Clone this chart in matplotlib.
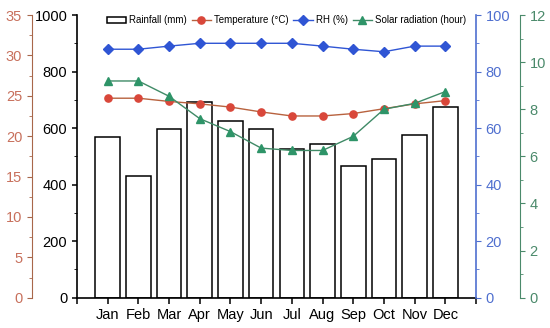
import numpy as np
import matplotlib
matplotlib.use('Agg')
import matplotlib.pyplot as plt
from matplotlib.ticker import MultipleLocator

months = ['Jan', 'Feb', 'Mar', 'Apr', 'May', 'Jun', 'Jul', 'Aug', 'Sep', 'Oct', 'Nov', 'Dec']
rainfall = [570, 431, 598, 694, 626, 598, 527, 542, 466, 492, 577, 674]
temperature = [24.7, 24.7, 24.3, 24.0, 23.6, 23.0, 22.5, 22.5, 22.8, 23.4, 24.0, 24.4]
rh = [87.9, 87.9, 89.0, 90.0, 90.0, 90.0, 90.0, 89.0, 87.9, 87.0, 89.0, 89.0]
solar = [9.2, 9.2, 8.55, 7.6, 7.05, 6.35, 6.25, 6.25, 6.85, 8.0, 8.25, 8.75]

plt.rcParams['font.family'] = ['Liberation Sans', 'DejaVu Sans']

c_temp = '#d9473a'
c_temp_line = '#b8623e'
c_temp_ax = '#a8674a'
c_rh = '#2f55d4'
c_rh_ax = '#4f6fcf'
c_sol = '#2e9468'
c_sol_ax = '#4b8a6b'

fig = plt.figure(figsize=(5.5, 3.28), dpi=100)
ax = fig.add_axes([0.14, 0.0924, 0.7255, 0.8618])
x = np.arange(1, 13)

ax.bar(x, rainfall, width=0.8, facecolor='white', edgecolor='black', linewidth=1.1,
       label='Rainfall (mm)', zorder=1)
ax.set_xlim(0, 13)
ax.set_ylim(0, 1000)
ax.set_xticks(np.arange(0, 14))
ax.set_xticklabels([''] + months + [''], fontsize=10.5)
ax.yaxis.set_major_locator(MultipleLocator(200))
ax.yaxis.set_minor_locator(MultipleLocator(100))
ax.tick_params(axis='y', labelsize=10.5, width=1.1)
ax.tick_params(axis='x', width=1.1, length=4)
ax.spines['top'].set_visible(False)
ax.spines['right'].set_visible(False)
for s in ['left', 'bottom']:
    ax.spines[s].set_linewidth(1.2)

# temperature axis (far left)
ax_t = ax.twinx()
ax_t.spines['left'].set_position(('axes', -0.113))
ax_t.spines['left'].set_visible(True)
ax_t.spines['right'].set_visible(False)
ax_t.spines['top'].set_visible(False)
ax_t.spines['bottom'].set_visible(False)
ax_t.yaxis.set_ticks_position('left')
ax_t.yaxis.set_label_position('left')
ax_t.spines['left'].set_color(c_temp_ax)
ax_t.set_ylim(0, 35)
ax_t.yaxis.set_major_locator(MultipleLocator(5))
ax_t.yaxis.set_minor_locator(MultipleLocator(2.5))
ax_t.tick_params(axis='y', which='both', colors=c_temp_ax, labelsize=10.5)
ax_t.tick_params(axis='y', labelcolor='#c8705c')
lt, = ax_t.plot(x, temperature, '-', color=c_temp_line, lw=1.0, marker='o', ms=5.2,
                mfc=c_temp, mec=c_temp, label='Temperature (°C)')

# RH axis (right)
ax_r = ax.twinx()
ax_r.spines['left'].set_visible(False)
ax_r.spines['top'].set_visible(False)
ax_r.spines['bottom'].set_visible(False)
ax_r.spines['right'].set_color(c_rh_ax)
ax_r.spines['right'].set_linewidth(1.2)
ax_r.set_ylim(0, 100)
ax_r.yaxis.set_major_locator(MultipleLocator(20))
ax_r.yaxis.set_minor_locator(MultipleLocator(10))
ax_r.tick_params(axis='y', which='both', colors=c_rh_ax, labelsize=10.5)
lr, = ax_r.plot(x, rh, '-', color=c_rh, lw=1.0, marker='D', ms=4.8,
                mfc=c_rh, mec=c_rh, label='RH (%)')

# solar radiation axis (far right)
ax_s = ax.twinx()
ax_s.spines['right'].set_position(('axes', 1.110))
ax_s.spines['left'].set_visible(False)
ax_s.spines['top'].set_visible(False)
ax_s.spines['bottom'].set_visible(False)
ax_s.spines['right'].set_color(c_sol_ax)
ax_s.set_ylim(0, 12)
ax_s.yaxis.set_major_locator(MultipleLocator(2))
ax_s.yaxis.set_minor_locator(MultipleLocator(1))
ax_s.tick_params(axis='y', which='both', colors=c_sol_ax, labelsize=10.5)
ls, = ax_s.plot(x, solar, '-', color='#3f8a66', lw=1.0, marker='^', ms=6,
                mfc=c_sol, mec=c_sol, label='Solar radiation (hour)')

bars = ax.patches[0]
fig.legend([bars, lt, lr, ls],
           ['Rainfall (mm)', 'Temperature (°C)', 'RH (%)', 'Solar radiation (hour)'],
           loc='upper left', bbox_to_anchor=(0.178, 0.98), ncol=4, frameon=False,
           fontsize=7, handlelength=2.0, handletextpad=0.3, columnspacing=0.5)

fig.savefig('out.png', dpi=100)
